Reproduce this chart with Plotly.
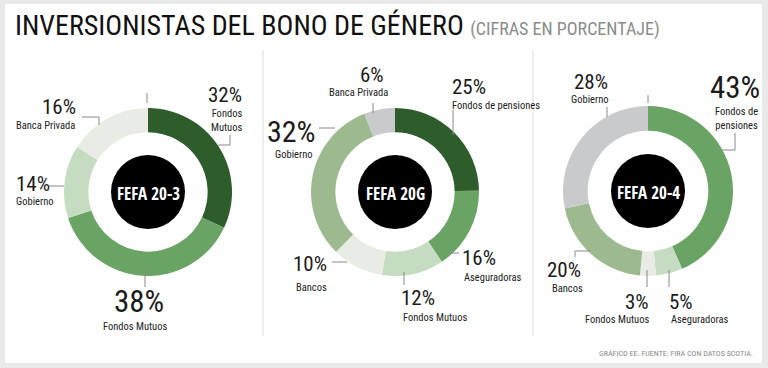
import plotly.graph_objects as go

W, H = 768, 368

# ---------------- data ----------------
chart_titles = ["FEFA 20-3", "FEFA 20G", "FEFA 20-4"]

fefa203_labels = ["Fondos Mutuos", "Fondos Mutuos", "Gobierno", "Banca Privada"]
fefa203_values = [32, 38, 14, 16]

fefa20g_labels = ["Fondos de pensiones", "Aseguradoras", "Fondos Mutuos", "Bancos", "Gobierno", "Banca Privada"]
fefa20g_values = [25, 16, 12, 10, 32, 6]

fefa204_labels = ["Fondos de pensiones", "Aseguradoras", "Fondos Mutuos", "Bancos", "Gobierno"]
fefa204_values = [43, 5, 3, 20, 28]

title_text = "INVERSIONISTAS DEL BONO DE GÉNERO"
subtitle_text = "(CIFRAS EN PORCENTAJE)"
source_text = "GRÁFICO EE. FUENTE: FIRA CON DATOS SCOTIA."

# ---------------- styles / layout ----------------
DARK = "#2e5c2b"
MED = "#6aa465"
LIGHT = "#c6dcc2"
VLIGHT = "#e9ece4"
SAGE = "#9cb98f"
GRAY = "#c8cacb"

FONT = "Roboto Condensed, DejaVu Sans Condensed, sans-serif"
BOLD_FONT = "Open Sans Condensed, Roboto Condensed, sans-serif"

def px(x):
    return x / W

def py(y):
    return 1 - y / H

donuts = [
    dict(labels=fefa203_labels, values=fefa203_values, colors=[DARK, MED, LIGHT, VLIGHT],
         cx=148, cy=192, r=84,
         lab=[  # pct (x,y,anchor,size), name (x,y), wrap, leader
             dict(p=(244, 95, "right", 21), n=(244, 121), wrap=True, lead=[(218, 145), (230, 145), (230, 135)]),
             dict(p=(139, 301, "center", 31), n=(135, 326), wrap=False, lead=[(145, 270), (145, 287)]),
             dict(p=(14, 184, "left", 21), n=(14, 201), wrap=False, lead=[(49, 186), (64, 186)]),
             dict(p=(78, 107, "right", 21), n=(77, 125), wrap=False, lead=[(82, 117), (99, 117), (99, 125)]),
         ],
         ticks=[[(147, 93), (147, 103)]]),
    dict(labels=fefa20g_labels, values=fefa20g_values, colors=[DARK, MED, LIGHT, VLIGHT, SAGE, GRAY],
         cx=395, cy=192, r=84,
         lab=[
             dict(p=(450, 87, "left", 21), n=(450, 105), wrap=False, lead=[(453, 110), (453, 135)]),
             dict(p=(460, 258, "left", 21), n=(462, 277), wrap=False, lead=[(446, 253), (459, 253)]),
             dict(p=(399, 298, "left", 21), n=(401, 317), wrap=False, lead=[(404, 272), (404, 285)]),
             dict(p=(310, 264, "center", 21), n=(311, 287), wrap=False, lead=[(332, 262), (347, 262)]),
             dict(p=(291, 131, "center", 30), n=(294, 154), wrap=False, lead=[(319, 128), (335, 128)]),
             dict(p=(372, 75, "center", 21), n=(358, 92), wrap=False, lead=[(373, 103), (373, 113)]),
         ],
         ticks=[]),
    dict(labels=fefa204_labels, values=fefa204_values, colors=[MED, LIGHT, VLIGHT, SAGE, GRAY],
         cx=648, cy=191, r=85,
         lab=[
             dict(p=(735, 87, "center", 31), n=(736, 118), wrap=True, lead=[(722, 150), (735, 150), (735, 133)], wrapat=" de"),
             dict(p=(667, 302, "left", 21), n=(669, 319), wrap=False, lead=[(669, 270), (669, 287)]),
             dict(p=(651, 302, "right", 21), n=(651, 319), wrap=False, lead=[(647, 270), (647, 287)]),
             dict(p=(564, 270, "center", 21), n=(567, 288), wrap=False, lead=[(590, 251), (575, 251), (575, 257)]),
             dict(p=(591, 82, "center", 21), n=(590, 99), wrap=False, lead=[(607, 107), (607, 117)]),
         ],
         ticks=[[(648, 95), (648, 103)]]),
]

fig = go.Figure()
shapes = []
annotations = []

# white panel over gray border
shapes.append(dict(type="rect", xref="paper", yref="paper",
                   x0=px(5), x1=px(762), y0=py(363), y1=py(4),
                   fillcolor="white", line=dict(width=0), layer="below"))
# dividers
for xd in (263, 533):
    shapes.append(dict(type="line", xref="paper", yref="paper",
                       x0=px(xd), x1=px(xd), y0=py(50), y1=py(336),
                       line=dict(color="#dcdcdc", width=1)))

def path_of(pts):
    s = "M {} {}".format(px(pts[0][0]), py(pts[0][1]))
    for (x, y) in pts[1:]:
        s += " L {} {}".format(px(x), py(y))
    return s

for title, d in zip(chart_titles, donuts):
    cx, cy, r = d["cx"], d["cy"], d["r"]
    fig.add_trace(go.Pie(
        labels=[f"{n} {i}" for i, n in enumerate(d["labels"])],
        values=d["values"],
        hole=0.71, sort=False, direction="clockwise", rotation=0,
        marker=dict(colors=d["colors"], line=dict(width=0)),
        textinfo="none", hoverinfo="skip", showlegend=False,
        domain=dict(x=[px(cx - r), px(cx + r)], y=[py(cy + r), py(cy - r)]),
    ))
    # black center disc
    rb = 37
    shapes.append(dict(type="circle", xref="paper", yref="paper",
                       x0=px(cx - rb), x1=px(cx + rb), y0=py(cy + rb), y1=py(cy - rb),
                       fillcolor="black", line=dict(width=0)))
    annotations.append(dict(x=px(cx), y=py(cy + 1), xref="paper", yref="paper",
                            text=f"<b>{title}</b>", showarrow=False,
                            font=dict(family=BOLD_FONT, size=17, color="white"),
                            xanchor="center", yanchor="middle"))
    for name, val, lab in zip(d["labels"], d["values"], d["lab"]):
        x, y, anc, size = lab["p"]
        annotations.append(dict(x=px(x), y=py(y), xref="paper", yref="paper",
                                text=f"{val}%", showarrow=False,
                                font=dict(family=FONT, size=size, color="#1b1b1b"),
                                xanchor=anc, yanchor="middle"))
        nm = name
        if lab["wrap"]:
            if lab.get("wrapat"):
                nm = name.replace(lab["wrapat"] + " ", lab["wrapat"] + "<br>", 1)
            else:
                nm = name.replace(" ", "<br>", 1)
        nx, ny = lab["n"]
        annotations.append(dict(x=px(nx), y=py(ny), xref="paper", yref="paper",
                                text=nm, showarrow=False, align=anc,
                                font=dict(family=FONT, size=10.5, color="#222"),
                                xanchor=anc, yanchor="middle"))
        shapes.append(dict(type="path", xref="paper", yref="paper", path=path_of(lab["lead"]),
                           line=dict(color="#8a8a8a", width=1)))
    for t in d["ticks"]:
        shapes.append(dict(type="path", xref="paper", yref="paper", path=path_of(t),
                           line=dict(color="#8a8a8a", width=1)))

# title
annotations.append(dict(x=px(13), y=py(26), xref="paper", yref="paper",
                        text=f"{title_text} <span style='font-size:18px;color:#8c8c8c'>{subtitle_text}</span>",
                        showarrow=False, xanchor="left", yanchor="middle",
                        font=dict(family=FONT, size=28, color="#111")))
# source
annotations.append(dict(x=px(755), y=py(353), xref="paper", yref="paper",
                        text=source_text, showarrow=False, xanchor="right", yanchor="middle",
                        font=dict(family=FONT, size=8, color="#8a8a8a")))

fig.update_layout(width=W, height=H, margin=dict(l=0, r=0, t=0, b=0),
                  paper_bgcolor="#e9e9e9", plot_bgcolor="white",
                  shapes=shapes, annotations=annotations)

fig.write_html("out.html", config={"displayModeBar": False},
               post_script="document.body.style.margin='0';document.body.style.overflow='hidden';")
